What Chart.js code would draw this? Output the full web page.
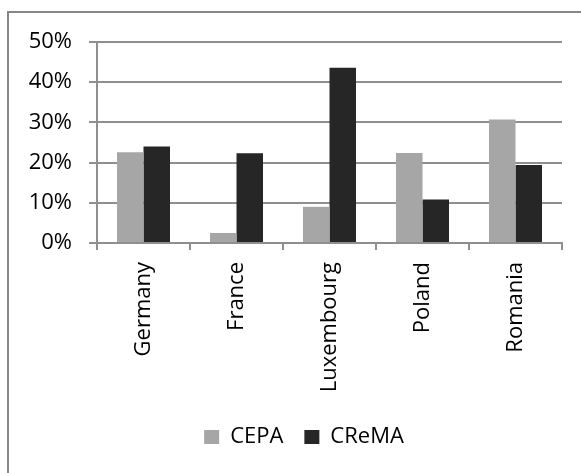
<!DOCTYPE html>
<html>
<head>
<meta charset="utf-8">
<script src="https://cdn.jsdelivr.net/npm/chart.js@4/dist/chart.umd.min.js"></script>
<style>
  html, body { margin: 0; padding: 0; background: #fff; overflow: hidden; }
  #wrap { position: absolute; left: 0; top: 0; width: 581px; height: 473px; }
</style>
</head>
<body>
<div id="wrap"><canvas id="chart" width="581" height="473"></canvas></div>
<script>
// Share of respondents by country (percent)
const countries = ['Germany', 'France', 'Luxembourg', 'Poland', 'Romania'];
const cepaValues = [22.6, 2.5, 9.0, 22.4, 30.7];
const cremaValues = [24.0, 22.3, 43.6, 10.8, 19.4];
const yTicks = [0, 10, 20, 30, 40, 50];

const FONT = '"Open Sans", "Liberation Sans", sans-serif';
const GRID = '#8f8f8f';
const LEGEND_CENTER_X = 304;

// Frame around the chart, open at the right and bottom edges
const framePlugin = {
  id: 'frame',
  beforeDraw(chart) {
    const ctx = chart.ctx;
    ctx.save();
    ctx.fillStyle = '#fff';
    ctx.fillRect(0, 0, chart.width, chart.height);
    ctx.strokeStyle = '#878787';
    ctx.lineWidth = 2;
    ctx.strokeRect(8, 12, chart.width + 40, chart.height + 40);
    ctx.restore();
  }
};

// Move the legend block so its items are centred on LEGEND_CENTER_X
const legendCenterPlugin = {
  id: 'legendCenter',
  afterLayout(chart) {
    const lg = chart.legend;
    if (!lg) return;
    const w = lg.right - lg.left;
    lg.left = LEGEND_CENTER_X - w / 2;
    lg.right = LEGEND_CENTER_X + w / 2;
  }
};

new Chart(document.getElementById('chart'), {
  type: 'bar',
  data: {
    labels: countries,
    datasets: [
      { label: 'CEPA', data: cepaValues, backgroundColor: '#a6a6a6' },
      { label: 'CReMA', data: cremaValues, backgroundColor: '#262626' }
    ]
  },
  plugins: [framePlugin, legendCenterPlugin],
  options: {
    responsive: false,
    animation: false,
    devicePixelRatio: 1,
    layout: { padding: { left: 8, right: 19, top: 42, bottom: 15 } },
    datasets: {
      bar: { categoryPercentage: 0.57, barPercentage: 1.0 }
    },
    scales: {
      x: {
        afterFit(scale) { scale.height = 162; },
        grid: {
          display: true,
          drawOnChartArea: false,
          drawTicks: true,
          tickLength: 7,
          color: GRID,
          lineWidth: 2
        },
        border: { display: true, color: GRID, width: 2 },
        ticks: {
          minRotation: 90,
          maxRotation: 90,
          padding: 12,
          color: '#000',
          font: { family: FONT, size: 22 }
        }
      },
      y: {
        min: 0,
        max: 50,
        afterFit(scale) { scale.width = 89; },
        afterBuildTicks(scale) { scale.ticks = yTicks.map(v => ({ value: v })); },
        grid: {
          color: GRID,
          lineWidth: 2,
          tickLength: 8
        },
        border: { display: true, color: GRID, width: 2 },
        ticks: {
          padding: 17,
          color: '#000',
          font: { family: FONT, size: 22 },
          callback: v => v + '%'
        }
      }
    },
    plugins: {
      legend: {
        position: 'bottom',
        labels: {
          boxWidth: 15,
          boxHeight: 14,
          padding: 21,
          color: '#000',
          font: { family: FONT, size: 22 }
        }
      },
      tooltip: { enabled: false }
    }
  }
});
</script>
</body>
</html>
